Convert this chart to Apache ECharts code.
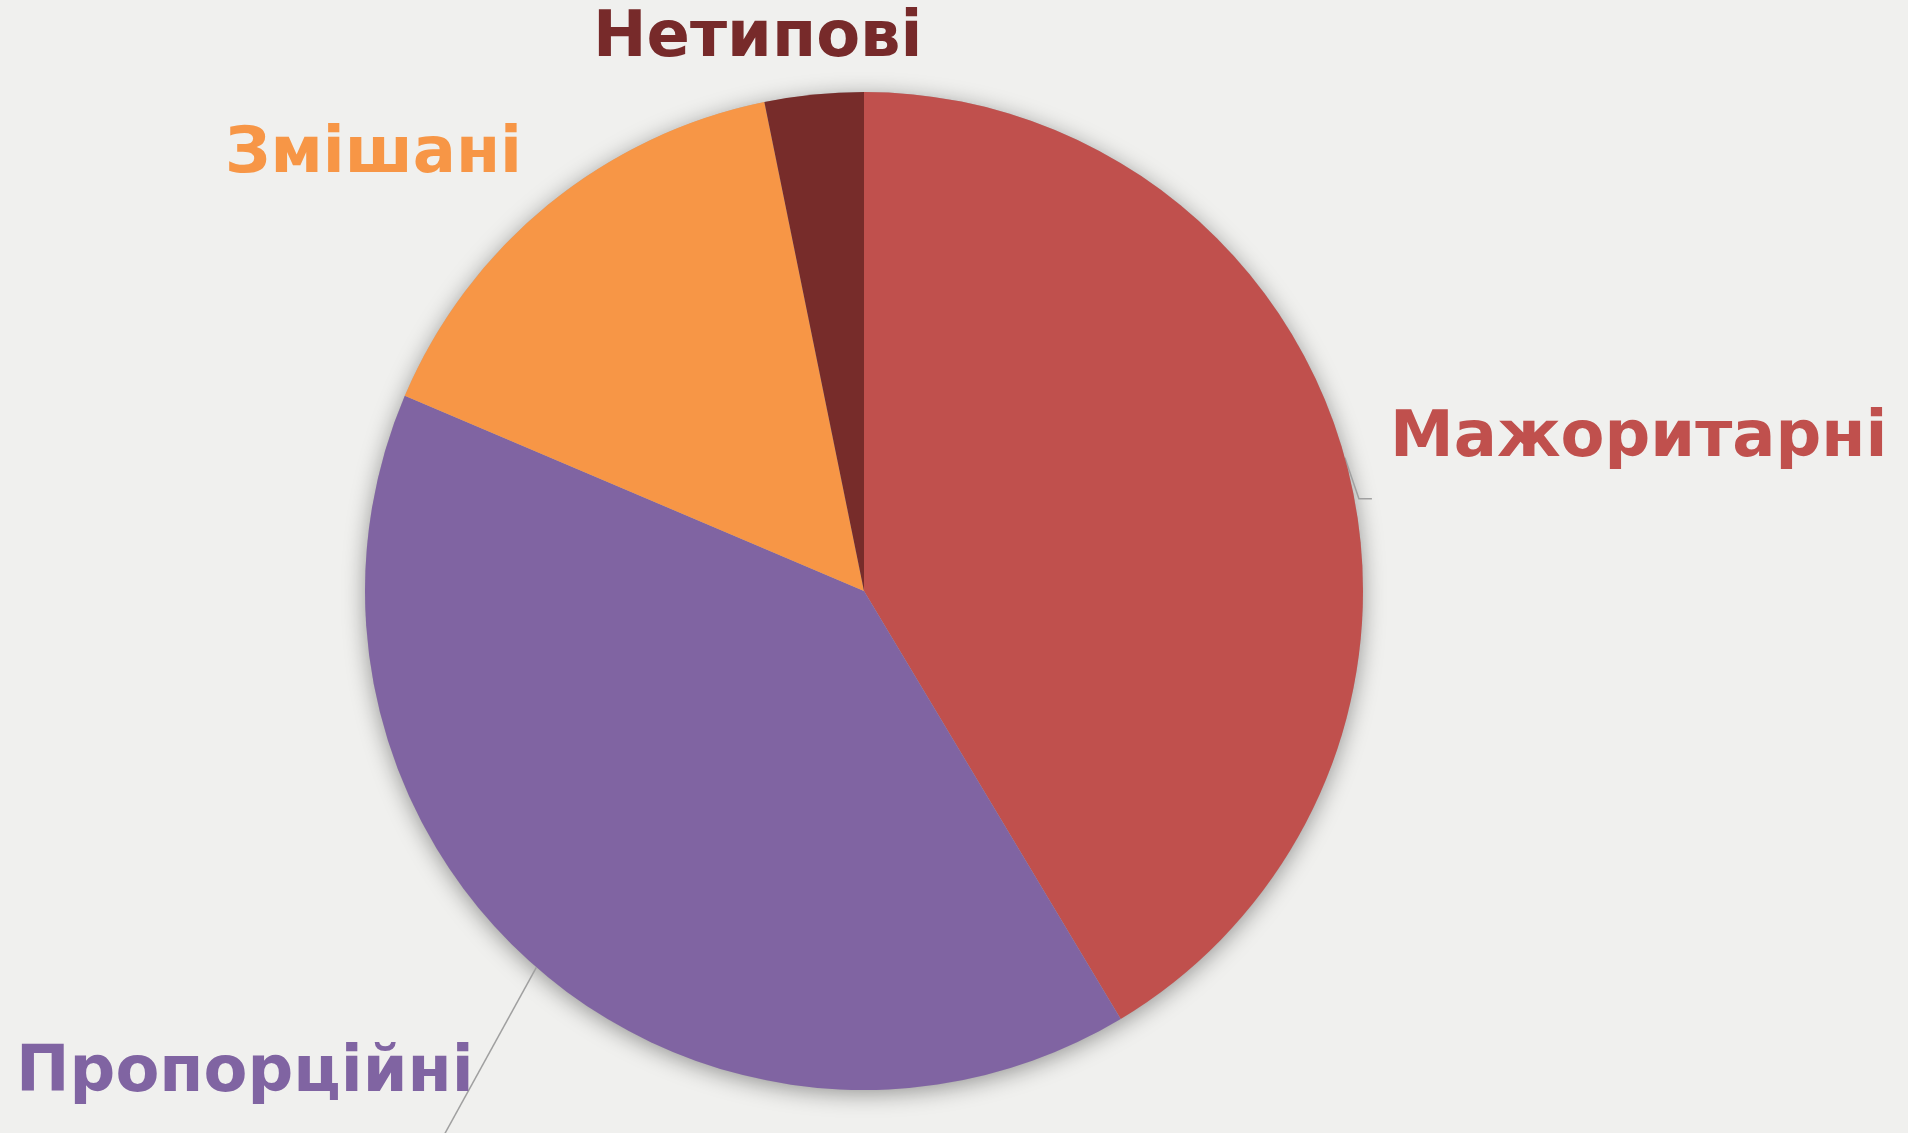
<!DOCTYPE html>
<html>
<head>
<meta charset="utf-8">
<script src="https://cdn.jsdelivr.net/npm/echarts@6/dist/echarts.min.js"></script>
<style>
html,body{margin:0;padding:0;background:#f0f0ee;}
#chart{width:1908px;height:1133px;}
</style>
</head>
<body>
<div id="chart"></div>
<script>
const categories = ['Мажоритарні', 'Пропорційні', 'Змішані', 'Нетипові'];
const values = [41.4, 40.0, 15.4, 3.2];
const colors = ['#C0504D', '#8064A2', '#F79646', '#772C2A'];
const labelColors = ['#C0504D', '#8064A2', '#F79646', '#772A2A'];
const showLines = [true, true, false, false];

// label anchor positions (left x, vertical middle y)
const labelPos = [
  [1390, 439],
  [16, 1074],
  [225, 155],
  [593, 39]
];

const chart = echarts.init(document.getElementById('chart'), null, {renderer: 'canvas'});

const option = {
  backgroundColor: '#f0f0ee',
  animation: false,
  series: [
    {
      type: 'pie',
      silent: true,
      center: [864, 591],
      radius: 499,
      label: {show: false},
      labelLine: {show: false},
      itemStyle: {
        color: '#b0b0b0',
        shadowBlur: 22,
        shadowOffsetX: 0,
        shadowOffsetY: 4,
        shadowColor: 'rgba(0,0,0,0.38)'
      },
      data: [{value: 1, name: 'base'}],
      z: 1
    },
    {
      type: 'pie',
      center: [864, 591],
      radius: 499,
      startAngle: 90,
      clockwise: true,
      avoidLabelOverlap: false,
      z: 2,
      data: categories.map((c, i) => ({
        name: c,
        value: values[i],
        itemStyle: {color: colors[i]},
        label: {color: labelColors[i]},
        labelLine: {show: showLines[i]}
      })),
      label: {
        show: true,
        position: 'outside',
        formatter: '{b}',
        fontFamily: 'DejaVu Sans',
        fontWeight: 'bold',
        fontSize: 64
      },
      labelLine: {
        show: true,
        lineStyle: {color: '#a0a0a0', width: 1.5}
      },
      labelLayout: function (params) {
        const i = params.dataIndex;
        const res = {
          x: labelPos[i][0],
          y: labelPos[i][1],
          align: 'left',
          verticalAlign: 'middle'
        };
        const pts = params.labelLinePoints;
        if (pts && pts.length) {
          const s = pts[0];
          if (i === 0) {
            res.labelLinePoints = [[s[0], s[1]], [s[0] + 14, s[1] + 41], [s[0] + 27, s[1] + 41]];
          } else if (i === 1) {
            res.labelLinePoints = [[s[0], s[1]], [s[0] - 60, s[1] + 109], [s[0] - 120, s[1] + 218]];
          }
        }
        return res;
      }
    }
  ]
};
chart.setOption(option);
</script>
</body>
</html>
